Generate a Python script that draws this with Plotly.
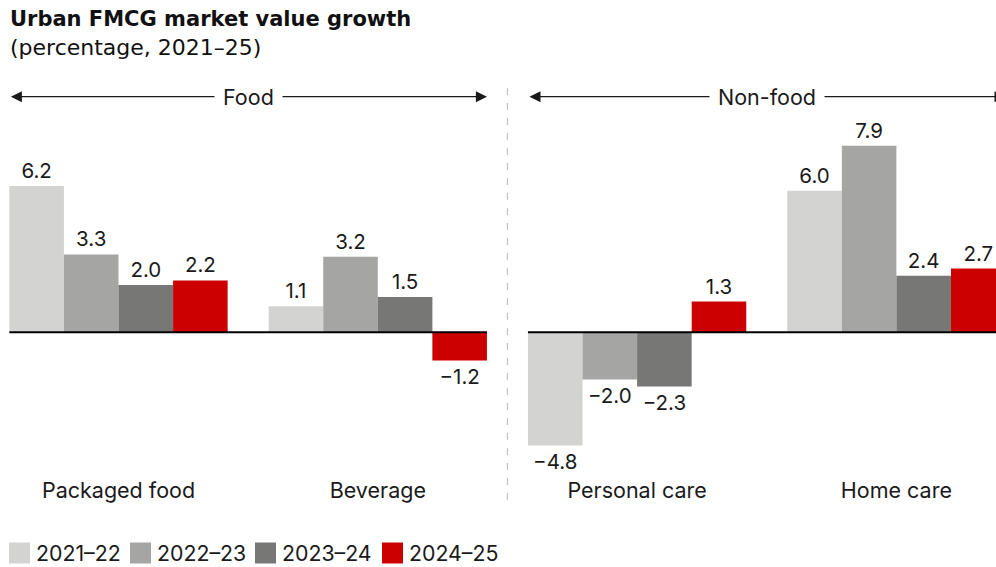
import plotly.graph_objects as go

# ---- data -----------------------------------------------------------------
categories = ["Packaged food", "Beverage", "Personal care", "Home care"]
periods = ["2021–22", "2022–23", "2023–24", "2024–25"]
growth_2021_22 = [6.2, 1.1, -4.8, 6.0]
growth_2022_23 = [3.3, 3.2, -2.0, 7.9]
growth_2023_24 = [2.0, 1.5, -2.3, 2.4]
growth_2024_25 = [2.2, -1.2, 1.3, 2.7]
series_values = [growth_2021_22, growth_2022_23, growth_2023_24, growth_2024_25]
colors = ["#d3d3d1", "#a5a5a3", "#777775", "#cc0000"]
segments = [("Food", 0, 1), ("Non-food", 2, 3)]

# ---- layout constants -------------------------------------------------------
W, H = 996, 567
TOP, BOTTOM = 80, 470            # plot area in pixels
PLOT_H = BOTTOM - TOP
BASE_PX = 332.3                  # pixel row of the zero line
PX_PER_UNIT = 23.6
PITCH = 259.3                    # pixels per category
CENTER0 = 118.5                  # pixel centre of the first group
BARGAP = 41 / PITCH
FONT = "Inter"
HEAD_FONT = "DejaVu Sans"
FS = 21.5
TXT = "#1a1a1a"
LEG_X = [9, 130, 255, 382]       # legend swatch left edges, px
LEG_Y = 553


def py(p):
    return (BOTTOM - p) / PLOT_H


def fmt(v):
    return f"{v:.1f}".replace("-", "−")


fig = go.Figure()
for name, vals, col in zip(periods, series_values, colors):
    fig.add_trace(go.Bar(
        x=categories, y=vals, name=name, marker_color=col,
        marker_line_width=0,
        text=[fmt(v) for v in vals], textposition="outside",
        textfont=dict(family=FONT, size=20.5, color=TXT),
        constraintext="none", cliponaxis=False, showlegend=False,
    ))

xr = [-CENTER0 / PITCH, (W - CENTER0) / PITCH]
yr = [-(BOTTOM - BASE_PX) / PX_PER_UNIT, (BASE_PX - TOP) / PX_PER_UNIT]

half = (1 - BARGAP) / 2
shapes = []
annotations = []
arrow_y = (BASE_PX - 96.7) / PX_PER_UNIT

for label, i0, i1 in segments:
    # zero line for the segment
    shapes.append(dict(type="line", xref="x", yref="y", x0=i0 - half, x1=i1 + half,
                       y0=0, y1=0, line=dict(color="#000000", width=2), layer="above"))
    # double-headed span arrow with centered label
    annotations.append(dict(xref="x", yref="y", axref="x", ayref="y",
                            x=i1 + half, y=arrow_y, ax=i0 - half, ay=arrow_y,
                            text="", showarrow=True, arrowside="end+start",
                            arrowhead=2, arrowsize=1.7, arrowwidth=1.3,
                            arrowcolor="#1a1a1a", standoff=0, startstandoff=0))
    annotations.append(dict(xref="x", yref="y", x=(i0 + i1) / 2, y=arrow_y,
                            text=label, showarrow=False, bgcolor="white",
                            borderpad=8, xanchor="center", yanchor="middle",
                            font=dict(family=FONT, size=FS, color=TXT)))

# dashed divider between the segments
shapes.append(dict(type="line", xref="x", yref="paper", x0=1.5, x1=1.5,
                   y0=py(500), y1=py(88),
                   line=dict(color="#c4c4c4", width=1.2, dash="7px,8px")))

# title and subtitle
annotations.append(dict(xref="paper", yref="paper", x=10 / W, y=py(19),
                        xanchor="left", yanchor="middle", showarrow=False,
                        xshift=-2,
                        text="<b>Urban FMCG market value growth</b>",
                        font=dict(family=HEAD_FONT, size=21, color="#111111")))
annotations.append(dict(xref="paper", yref="paper", x=10 / W, y=py(47),
                        xanchor="left", yanchor="middle", showarrow=False,
                        xshift=-2,
                        text="(percentage, 2021–25)",
                        font=dict(family=HEAD_FONT, size=22, color="#111111")))

# legend row
for lx, name, col in zip(LEG_X, periods, colors):
    xa = lx / W
    shapes.append(dict(type="rect", xref="paper", yref="paper",
                       xsizemode="pixel", ysizemode="pixel",
                       xanchor=xa, yanchor=py(LEG_Y),
                       x0=0, x1=21, y0=-10.5, y1=10.5,
                       fillcolor=col, line=dict(width=0)))
    annotations.append(dict(xref="paper", yref="paper", x=xa, y=py(LEG_Y),
                            xshift=25, xanchor="left", yanchor="middle",
                            showarrow=False, text=name,
                            font=dict(family=FONT, size=21.3, color=TXT)))

fig.update_layout(
    width=W, height=H,
    margin=dict(l=0, r=0, t=TOP, b=H - BOTTOM, pad=0),
    paper_bgcolor="white", plot_bgcolor="white",
    barmode="group", bargap=BARGAP, bargroupgap=0,
    showlegend=False,
    xaxis=dict(range=xr, showgrid=False, zeroline=False, showline=False,
               ticks="", tickfont=dict(family=FONT, size=FS, color=TXT),
               ticklabelstandoff=5, fixedrange=True),
    yaxis=dict(range=yr, visible=False, fixedrange=True),
    shapes=shapes, annotations=annotations,
    font=dict(family=FONT, color=TXT),
)

fig.write_html("out.html")
